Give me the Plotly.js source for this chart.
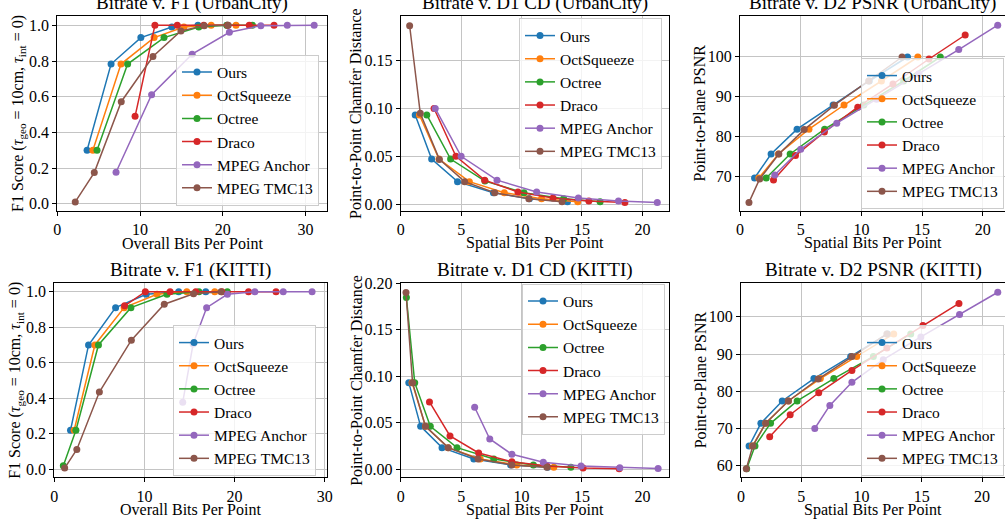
<!DOCTYPE html>
<html>
<head>
<meta charset="utf-8">
<script src="https://cdn.plot.ly/plotly-3.0.1.min.js"></script>
<style>html,body{margin:0;padding:0;background:#fff;}#chart{width:1005px;height:523px;}</style>
</head>
<body>
<div id="chart"></div>
<script>
// ---------- Data ----------
const methods = ['Ours', 'OctSqueeze', 'Octree', 'Draco', 'MPEG Anchor', 'MPEG TMC13'];
const colors = ['#1f77b4', '#ff7f0e', '#2ca02c', '#d62728', '#9467bd', '#8c564b'];

// UrbanCity: overall bits per point (F1 plot)
const ucOverallOurs   = [3.6, 6.5, 10.1, 13.85, 17.0, 20.5];
const ucOverallOctSq  = [4.3, 7.7, 11.7, 15.3, 18.6, 21.6];
const ucOverallOctree = [4.8, 8.5, 12.9, 17.1, 20.5, 23.6];
const ucOverallDraco  = [9.4, 11.8, 14.5, 17.7, 20.6, 23.2, 26.2];
const ucOverallAnchor = [7.1, 11.4, 16.3, 20.8, 24.6, 27.8, 31.05];
const ucOverallTMC13  = [2.17, 4.47, 7.73, 11.56, 14.94, 17.76, 20.66];
// UrbanCity: F1 scores
const ucF1Ours   = [0.30, 0.783, 0.931, 0.99, 1.0, 1.0];
const ucF1OctSq  = [0.30, 0.783, 0.931, 0.99, 1.0, 1.0];
const ucF1Octree = [0.30, 0.783, 0.931, 0.99, 1.0, 1.0];
const ucF1Draco  = [0.49, 1.0, 1.0, 1.0, 1.0, 1.0, 1.0];
const ucF1Anchor = [0.177, 0.611, 0.838, 0.961, 0.998, 1.0, 1.0];
const ucF1TMC13  = [0.011, 0.175, 0.572, 0.825, 0.968, 0.998, 1.0];
// UrbanCity: spatial bits per point
const ucSpatialOurs   = [1.2, 2.56, 4.7, 7.67, 10.65, 13.8];
const ucSpatialOctSq  = [1.55, 3.17, 5.68, 8.57, 11.65, 14.65];
const ucSpatialOctree = [2.16, 4.13, 6.97, 10.2, 13.48, 16.5];
const ucSpatialDraco  = [2.76, 4.57, 6.95, 9.7, 12.6, 15.57, 18.55];
const ucSpatialAnchor = [2.86, 5.0, 7.97, 11.25, 14.7, 18.02, 21.23];
const ucSpatialTMC13  = [0.74, 1.62, 3.2, 5.29, 7.78, 10.6, 13.35];
// UrbanCity: D1 chamfer distance
const ucD1Ours   = [0.0932, 0.0471, 0.0234, 0.0119, 0.0055, 0.0025];
const ucD1OctSq  = [0.0932, 0.0471, 0.0234, 0.0119, 0.0055, 0.0025];
const ucD1Octree = [0.0932, 0.0471, 0.0240, 0.0119, 0.0055, 0.0025];
const ucD1Draco  = [0.100, 0.050, 0.025, 0.0126, 0.0064, 0.0031, 0.0016];
const ucD1Anchor = [0.100, 0.050, 0.025, 0.0126, 0.0064, 0.0031, 0.0016];
const ucD1TMC13  = [0.1866, 0.0949, 0.0467, 0.0234, 0.0119, 0.0055, 0.0025];
// UrbanCity: D2 PSNR
const ucD2Ours   = [69.5, 75.5, 81.7, 87.75, 93.75, 99.75];
const ucD2OctSq  = [69.5, 75.5, 81.7, 87.75, 93.75, 99.75];
const ucD2Octree = [69.5, 75.5, 81.7, 87.75, 93.75, 99.75];
const ucD2Draco  = [69.0, 75.1, 81.0, 87.2, 93.0, 99.25, 105.25];
const ucD2Anchor = [70.25, 76.7, 83.2, 89.2, 95.5, 101.6, 107.7];
const ucD2TMC13  = [63.4, 69.25, 75.5, 81.6, 87.7, 93.75, 99.75];

// KITTI: overall bits per point (F1 plot)
const kiOverallOurs   = [1.8, 3.8, 6.8, 10.2, 13.8, 16.8];
const kiOverallOctSq  = [2.2, 4.5, 7.75, 11.4, 14.7, 17.8];
const kiOverallOctree = [1.0, 2.4, 4.9, 8.5, 12.5, 16.05, 19.2];
const kiOverallDraco  = [7.8, 10.1, 12.85, 15.7, 18.6, 21.55, 24.6];
const kiOverallAnchor = [14.25, 15.4, 16.9, 19.2, 22.25, 25.4, 28.6];
const kiOverallTMC13  = [1.15, 2.5, 5.0, 8.55, 12.2, 15.45, 18.5];
// KITTI: F1 scores
const kiF1Ours   = [0.22, 0.70, 0.91, 0.985, 1.0, 1.0];
const kiF1OctSq  = [0.22, 0.70, 0.91, 0.985, 1.0, 1.0];
const kiF1Octree = [0.02, 0.22, 0.70, 0.91, 0.985, 1.0, 1.0];
const kiF1Draco  = [0.92, 1.0, 1.0, 1.0, 1.0, 1.0, 1.0];
const kiF1Anchor = [0.378, 0.705, 0.91, 0.985, 1.0, 1.0, 1.0];
const kiF1TMC13  = [0.007, 0.112, 0.435, 0.727, 0.929, 0.988, 1.0];
// KITTI: spatial bits per point
const kiSpatialOurs   = [0.67, 1.65, 3.42, 6.05, 9.1, 12.15];
const kiSpatialOctSq  = [0.94, 2.05, 3.93, 6.58, 9.6, 12.67];
const kiSpatialOctree = [0.47, 1.16, 2.45, 4.66, 7.7, 10.98, 14.08];
const kiSpatialDraco  = [2.38, 4.08, 6.45, 9.2, 12.1, 15.09, 18.08];
const kiSpatialAnchor = [6.12, 7.37, 9.2, 11.8, 14.92, 18.13, 21.3];
const kiSpatialTMC13  = [0.44, 0.98, 2.05, 3.93, 6.4, 9.2, 12.1];
// KITTI: D1 chamfer distance
const kiD1Ours   = [0.0932, 0.0462, 0.0233, 0.0111, 0.0047, 0.0022];
const kiD1OctSq  = [0.0932, 0.0462, 0.0233, 0.0111, 0.0047, 0.0022];
const kiD1Octree = [0.1846, 0.0932, 0.0462, 0.0233, 0.0111, 0.0047, 0.0022];
const kiD1Draco  = [0.0724, 0.0358, 0.0176, 0.0082, 0.0036, 0.0014, 0.0007];
const kiD1Anchor = [0.0667, 0.0326, 0.0161, 0.0075, 0.0036, 0.0018, 0.0008];
const kiD1TMC13  = [0.190, 0.0932, 0.0462, 0.0233, 0.0111, 0.0047, 0.0022];
// KITTI: D2 PSNR
const kiD2Ours   = [65.3, 71.4, 77.4, 83.4, 89.35, 95.4];
const kiD2OctSq  = [65.3, 71.4, 77.4, 83.4, 89.35, 95.4];
const kiD2Octree = [59.2, 65.3, 71.4, 77.4, 83.4, 89.35, 95.4];
const kiD2Draco  = [67.8, 73.7, 79.6, 85.6, 91.6, 97.7, 103.6];
const kiD2Anchor = [70.0, 76.2, 82.4, 88.5, 94.6, 100.6, 106.6];
const kiD2TMC13  = [59.2, 65.3, 71.4, 77.4, 83.3, 89.35, 95.4];

const panelTitles = ['Bitrate v. F1 (UrbanCity)', 'Bitrate v. D1 CD (UrbanCity)', 'Bitrate v. D2 PSNR (UrbanCity)',
                     'Bitrate v. F1 (KITTI)', 'Bitrate v. D1 CD (KITTI)', 'Bitrate v. D2 PSNR (KITTI)'];
const xTitles = ['Overall Bits Per Point', 'Spatial Bits Per Point', 'Spatial Bits Per Point',
                 'Overall Bits Per Point', 'Spatial Bits Per Point', 'Spatial Bits Per Point'];
const f1Title = 'F1 Score (<i>τ</i><sub>geo</sub> = 10cm, <i>τ</i><sub>int</sub> = 0)';
const yTitles = [f1Title, 'Point-to-Point Chamfer Distance', 'Point-to-Plane PSNR',
                 f1Title, 'Point-to-Point Chamfer Distance', 'Point-to-Plane PSNR'];
const xTicks = [[0, 10, 20, 30], [0, 5, 10, 15, 20], [0, 5, 10, 15, 20], [0, 10, 20, 30], [0, 5, 10, 15, 20], [0, 5, 10, 15, 20]];
const yTicks = [[0, 0.2, 0.4, 0.6, 0.8, 1.0], [0, 0.05, 0.10, 0.15], [70, 80, 90, 100],
                [0, 0.2, 0.4, 0.6, 0.8, 1.0], [0, 0.05, 0.10, 0.15, 0.20], [60, 70, 80, 90, 100]];

// ---------- Build ----------
const FONT = '"Liberation Serif", "Times New Roman", serif';
const panels = [
  {xs: [ucOverallOurs, ucOverallOctSq, ucOverallOctree, ucOverallDraco, ucOverallAnchor, ucOverallTMC13],
   ys: [ucF1Ours, ucF1OctSq, ucF1Octree, ucF1Draco, ucF1Anchor, ucF1TMC13]},
  {xs: [ucSpatialOurs, ucSpatialOctSq, ucSpatialOctree, ucSpatialDraco, ucSpatialAnchor, ucSpatialTMC13],
   ys: [ucD1Ours, ucD1OctSq, ucD1Octree, ucD1Draco, ucD1Anchor, ucD1TMC13]},
  {xs: [ucSpatialOurs, ucSpatialOctSq, ucSpatialOctree, ucSpatialDraco, ucSpatialAnchor, ucSpatialTMC13],
   ys: [ucD2Ours, ucD2OctSq, ucD2Octree, ucD2Draco, ucD2Anchor, ucD2TMC13]},
  {xs: [kiOverallOurs, kiOverallOctSq, kiOverallOctree, kiOverallDraco, kiOverallAnchor, kiOverallTMC13],
   ys: [kiF1Ours, kiF1OctSq, kiF1Octree, kiF1Draco, kiF1Anchor, kiF1TMC13]},
  {xs: [kiSpatialOurs, kiSpatialOctSq, kiSpatialOctree, kiSpatialDraco, kiSpatialAnchor, kiSpatialTMC13],
   ys: [kiD1Ours, kiD1OctSq, kiD1Octree, kiD1Draco, kiD1Anchor, kiD1TMC13]},
  {xs: [kiSpatialOurs, kiSpatialOctSq, kiSpatialOctree, kiSpatialDraco, kiSpatialAnchor, kiSpatialTMC13],
   ys: [kiD2Ours, kiD2OctSq, kiD2Octree, kiD2Draco, kiD2Anchor, kiD2TMC13]}
];

const W = 1005, H = 523;
// pixel boxes [left, right, top, bottom]
const boxes = [
  [57.3, 327, 16, 211], [400.7, 669, 16, 211], [740, 1005, 16, 211],
  [54.3, 326.5, 283.3, 477.3], [400.7, 669, 283.3, 477.3], [741, 1005, 283.3, 477.3]
];
const xRanges = [[0, 32.6], [0, 22.2], [0, 21.83], [0, 30.2], [0, 22.2], [0, 21.9]];
const yRanges = [[-0.04, 1.052], [-0.0073, 0.1968], [61.25, 110], [-0.045, 1.047], [-0.0086, 0.2], [56.9, 109]];
const yFormats = ['.1f', '.2f', 'd', '.1f', '.2f', 'd'];
// legend [right px, center y px]
const legendPos = [[319, 130], [662, 93.5], [1004, 133.5], [316, 400.5], [665, 359], [1004, 400.5]];
// axis title centres: x-title centre y px, y-title centre x px
const xTitleY = [243, 243, 243, 509.5, 509.5, 509.5];
const yTitleX = [18.5, 355.5, 699, 15.5, 356.5, 700];

const data = [];
const layout = {
  width: W, height: H,
  margin: {l: 0, r: 0, t: 0, b: 0},
  paper_bgcolor: '#ffffff', plot_bgcolor: '#ffffff',
  font: {family: FONT, size: 16, color: '#000000'},
  annotations: [],
  showlegend: true
};

panels.forEach((p, i) => {
  const n = i + 1;
  const xa = 'x' + (n === 1 ? '' : n), ya = 'y' + (n === 1 ? '' : n);
  const legName = 'legend' + (n === 1 ? '' : n);
  for (let m = 0; m < methods.length; m++) {
    data.push({
      type: 'scatter', mode: 'lines+markers',
      x: p.xs[m], y: p.ys[m], name: methods[m],
      xaxis: xa, yaxis: ya, legend: legName,
      line: {color: colors[m], width: 1.5},
      marker: {color: colors[m], size: 7},
      hoverinfo: 'x+y+name'
    });
  }
  const b = boxes[i];
  const right = Math.min(b[1], W);
  const axCommon = {
    showline: true, mirror: true, linecolor: '#000000', linewidth: 1,
    ticks: 'outside', ticklen: 4, tickwidth: 1, tickcolor: '#000000',
    showgrid: true, gridcolor: '#c4c4c4', gridwidth: 1, zeroline: false,
    tickfont: {family: FONT, size: 16, color: '#000000'}
  };
  layout['xaxis' + (n === 1 ? '' : n)] = Object.assign({}, axCommon, {
    domain: [b[0] / W, right / W], anchor: ya,
    range: xRanges[i], tickmode: 'array', tickvals: xTicks[i]
  });
  layout['yaxis' + (n === 1 ? '' : n)] = Object.assign({}, axCommon, {
    domain: [1 - b[3] / H, 1 - b[2] / H], anchor: xa,
    range: yRanges[i], tickmode: 'array', tickvals: yTicks[i], tickformat: yFormats[i]
  });
  layout[legName] = {
    x: legendPos[i][0] / W, y: 1 - legendPos[i][1] / H,
    xanchor: 'right', yanchor: 'middle', xref: 'paper', yref: 'paper',
    bgcolor: 'rgba(255,255,255,0.8)', bordercolor: '#cccccc', borderwidth: 1,
    font: {family: FONT, size: 15.5, color: '#000'}, itemwidth: 30, tracegroupgap: 0
  };
  // subplot title
  layout.annotations.push({
    text: panelTitles[i], xref: 'paper', yref: 'paper',
    x: ((b[0] + right) / 2) / W, y: 1 - b[2] / H,
    xanchor: 'center', yanchor: 'bottom', showarrow: false,
    font: {family: FONT, size: 19, color: '#000'}
  });
  // x-axis title
  layout.annotations.push({
    text: xTitles[i], xref: 'paper', yref: 'paper',
    x: ((b[0] + right) / 2) / W, y: 1 - xTitleY[i] / H,
    xanchor: 'center', yanchor: 'middle', showarrow: false,
    font: {family: FONT, size: 16, color: '#000'}
  });
  // y-axis title
  layout.annotations.push({
    text: yTitles[i], xref: 'paper', yref: 'paper', textangle: -90,
    x: yTitleX[i] / W, y: 1 - ((b[2] + b[3]) / 2) / H,
    xanchor: 'center', yanchor: 'middle', showarrow: false,
    font: {family: FONT, size: 16, color: '#000'}
  });
});

Plotly.newPlot('chart', data, layout, {displayModeBar: false, staticPlot: true});
</script>
</body>
</html>
